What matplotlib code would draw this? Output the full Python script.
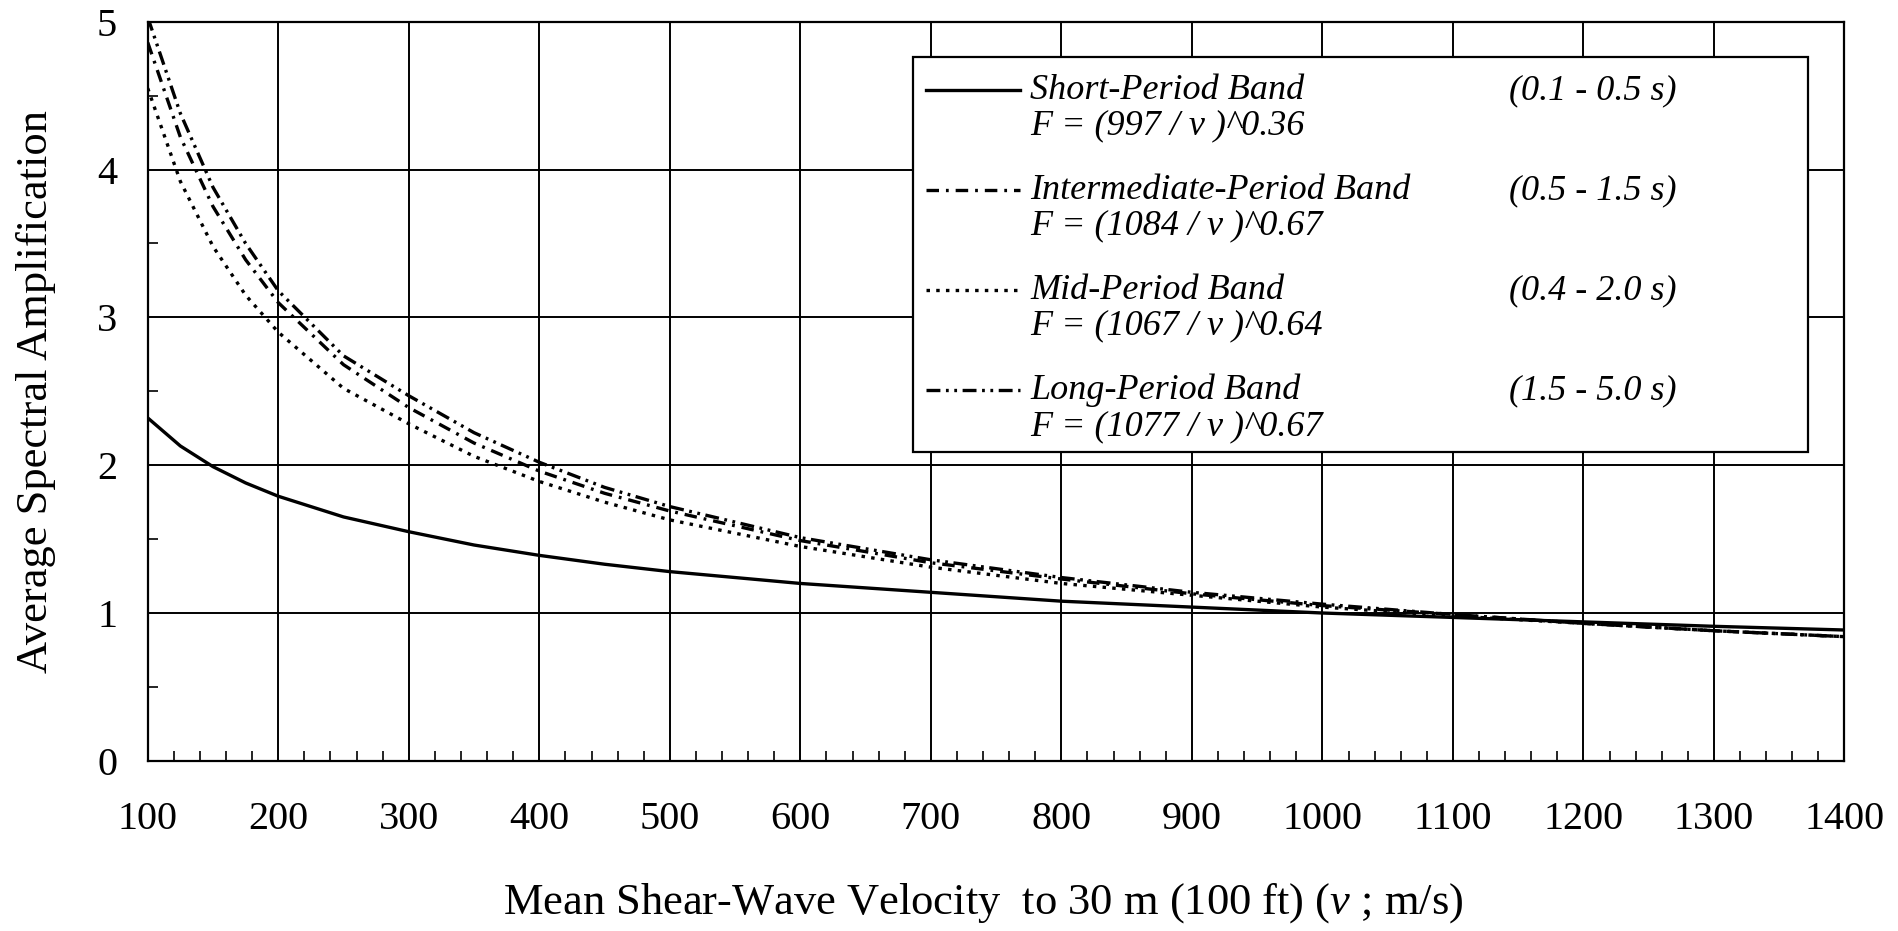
import numpy as np
import matplotlib
matplotlib.use("Agg")
import matplotlib.pyplot as plt
from matplotlib.lines import Line2D
from matplotlib.patches import Rectangle
from matplotlib.legend_handler import HandlerLine2D
from matplotlib.ticker import MultipleLocator

plt.rcParams['font.family'] = ['Liberation Serif', 'DejaVu Serif']
plt.rcParams['mathtext.fontset'] = 'custom'
plt.rcParams['mathtext.rm'] = 'Liberation Serif'
plt.rcParams['mathtext.it'] = 'Liberation Serif:italic'
plt.rcParams['lines.scale_dashes'] = False

# values (m/s vs amplification)
velocity = [100, 125, 150, 175, 200, 250, 300, 350, 400, 450, 500,
            600, 700, 800, 900, 1000, 1100, 1200, 1300, 1400]
short_band = [2.32, 2.13, 1.99, 1.88, 1.79, 1.65, 1.55, 1.46, 1.39, 1.33, 1.28,
              1.20, 1.14, 1.08, 1.04, 1.00, 0.97, 0.94, 0.91, 0.885]
intermediate_band = [4.86, 4.22, 3.75, 3.39, 3.10, 2.68, 2.39, 2.15, 1.96, 1.81, 1.69,
                     1.49, 1.34, 1.23, 1.13, 1.05, 0.99, 0.93, 0.88, 0.84]
mid_band = [4.55, 3.92, 3.48, 3.15, 2.90, 2.52, 2.28, 2.06, 1.89, 1.75, 1.63,
            1.45, 1.31, 1.20, 1.12, 1.04, 0.98, 0.93, 0.88, 0.84]
long_band = [5.03, 4.38, 3.88, 3.50, 3.18, 2.74, 2.47, 2.22, 2.02, 1.85, 1.72,
             1.51, 1.36, 1.24, 1.14, 1.06, 0.99, 0.93, 0.88, 0.84]

band_names = ["Short-Period Band", "Intermediate-Period Band",
              "Mid-Period Band", "Long-Period Band"]
formulas = ["F = (997 / v )^0.36", "F = (1084 / v )^0.67",
            "F = (1067 / v )^0.64", "F = (1077 / v )^0.67"]
period_ranges = ["(0.1 - 0.5 s)", "(0.5 - 1.5 s)", "(0.4 - 2.0 s)", "(1.5 - 5.0 s)"]


class RaisedLine(HandlerLine2D):
    # put the legend key on the first line of a two-line label
    def __init__(self, shift, **kw):
        super().__init__(**kw)
        self.shift = shift

    def create_artists(self, legend, orig_handle, xdescent, ydescent,
                       width, height, fontsize, trans):
        arts = super().create_artists(legend, orig_handle, xdescent, ydescent,
                                      width, height, fontsize, trans)
        for a in arts:
            a.set_ydata(np.asarray(a.get_ydata()) + self.shift)
        return arts


fig = plt.figure(figsize=(18.99, 9.31), dpi=100)
ax = fig.add_axes([0.0778, 0.1828, 0.8935, 0.7938])

lw = 2.4
l_short, = ax.plot(velocity, short_band, color='black', lw=lw, ls='-')
l_int, = ax.plot(velocity, intermediate_band, color='black', lw=lw, ls=(0, (9, 5, 2, 5)))
l_mid, = ax.plot(velocity, mid_band, color='black', lw=lw, ls=(0, (2.5, 4.5)))
l_long, = ax.plot(velocity, long_band, color='black', lw=lw, ls=(0, (10, 4, 2, 4, 2, 4)))

ax.set_xlim(100, 1400)
ax.set_ylim(0, 5)
ax.xaxis.set_major_locator(MultipleLocator(100))
ax.xaxis.set_minor_locator(MultipleLocator(20))
ax.yaxis.set_major_locator(MultipleLocator(1))
ax.yaxis.set_minor_locator(MultipleLocator(0.5))
ax.grid(True, which='major', color='black', lw=1.4)
ax.set_axisbelow(True)

ax.tick_params(axis='x', which='major', length=0, pad=29, labelsize=29)
ax.tick_params(axis='y', which='major', length=0, pad=22, labelsize=29)
ax.tick_params(which='minor', direction='in', length=7, width=1.2, top=False, right=False)
for s in ax.spines.values():
    s.set_linewidth(1.6)

ax.set_xlabel("Mean Shear-Wave Velocity  to 30 m (100 ft) ($v$ ; m/s)", fontsize=32)
ax.xaxis.set_label_coords(0.4922, -0.163)
ax.set_ylabel("Average Spectral Amplification", fontsize=32)
ax.yaxis.set_label_coords(-0.054, 0.5)

# legend box
ax.add_patch(Rectangle((0.451, 0.418), 0.5275, 0.5345, transform=ax.transAxes,
                       facecolor='white', edgecolor='black', lw=1.6, zorder=4))

blank = Line2D([], [], linestyle='none')
handles = [l_short, l_int, l_mid, l_long] + [blank] * 4
labels = [n + "\n" + f for n, f in zip(band_names, formulas)] + [r + "\n" for r in period_ranges]
shift = 13
leg = ax.legend(handles, labels, ncol=2, loc='upper left', bbox_to_anchor=(0.4545, 0.939),
                frameon=False, borderaxespad=0, borderpad=0.2,
                prop={'family': 'Liberation Serif', 'style': 'italic', 'size': 26},
                handlelength=2.6, handletextpad=0.28, columnspacing=-0.15,
                labelspacing=0.87,
                handler_map={h: RaisedLine(shift) for h in [l_short, l_int, l_mid, l_long]})
leg.set_zorder(5)
for t in leg.get_texts():
    t.set_linespacing(1.1)

fig.savefig("out.png", dpi=100)
